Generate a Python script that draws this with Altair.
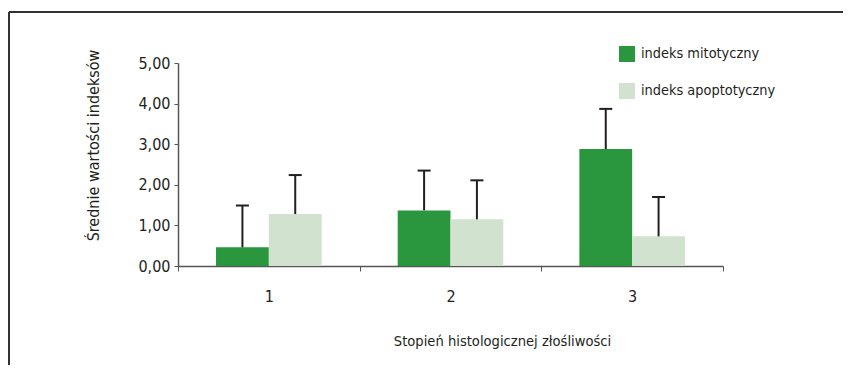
import altair as alt
import pandas as pd

categories = ["1", "2", "3"]
series = ["indeks mitotyczny", "indeks apoptotyczny"]
mito = [0.46, 1.37, 2.88]
mito_err = [1.03, 0.98, 0.99]
apo = [1.28, 1.15, 0.73]
apo_err = [0.96, 0.96, 0.97]
y_ticks = [0, 1, 2, 3, 4, 5]

rows = []
for i, c in enumerate(categories):
    rows.append({"cat": c, "series": series[0], "order": 0, "value": mito[i], "top": mito[i] + mito_err[i]})
    rows.append({"cat": c, "series": series[1], "order": 1, "value": apo[i], "top": apo[i] + apo_err[i]})
df = pd.DataFrame(rows)

FONT = "Liberation Sans Narrow, Arial Narrow, DejaVu Sans Condensed, sans-serif"
TXT = "#231f20"

x_enc = alt.X("cat:N", sort=categories,
              scale=alt.Scale(paddingInner=0, paddingOuter=0),
              axis=alt.Axis(title="Stopień histologicznej złośliwości", labelAngle=0,
                            tickBand="extent", tickSize=5, labelPadding=17,
                            labelFontSize=16, titleFontSize=14.6, titleFontWeight="normal",
                            titleX=324, titleY=75, titleBaseline="middle", titleAlign="center",
                            domainColor="#555555", tickColor="#555555", domainWidth=1.5))
xo_enc = alt.XOffset("series:N", sort=series, scale=alt.Scale(paddingOuter=0.72, paddingInner=0))
y_scale = alt.Scale(domain=[0, 5], nice=False)

bars = alt.Chart(df).mark_bar().encode(
    x=x_enc,
    xOffset=xo_enc,
    y=alt.Y("value:Q", scale=y_scale,
            axis=alt.Axis(title="Średnie wartości indeksów", values=y_ticks,
                          labelExpr="replace(format(datum.value, '.2f'), '.', ',')",
                          tickSize=4, labelPadding=4, grid=False,
                          labelFontSize=16, titleFontSize=16, titleFontWeight="normal",
                          titleX=-85, titleY=82, titleAngle=-90, titleBaseline="middle",
                          titleAlign="center",
                          domainColor="#555555", tickColor="#555555", domainWidth=1.5)),
    color=alt.Color("series:N", sort=series,
                    scale=alt.Scale(domain=series, range=["#2a963e", "#d1e3cf"]),
                    legend=alt.Legend(title=None, orient="none", legendX=441, legendY=-17,
                                      symbolType="square", symbolSize=256, symbolStrokeWidth=0,
                                      symbolOpacity=1, labelFontSize=14.4, rowPadding=21,
                                      labelOffset=6, labelColor=TXT)),
)

err = alt.Chart(df).mark_rule(color=TXT, strokeWidth=2).encode(
    x=alt.X("cat:N", sort=categories),
    xOffset=alt.XOffset("series:N", sort=series),
    y=alt.Y("value:Q", scale=y_scale),
    y2="top:Q",
)

caps = alt.Chart(df).mark_tick(color=TXT, thickness=2, size=13, opacity=1).encode(
    x=alt.X("cat:N", sort=categories),
    xOffset=alt.XOffset("series:N", sort=series),
    y=alt.Y("top:Q", scale=y_scale),
)

frame_top = alt.Chart(df).mark_rule(color="#333333", strokeWidth=1.5).encode(
    x=alt.value(-169), x2=alt.value(700), y=alt.value(-51))
frame_left = alt.Chart(df).mark_rule(color="#333333", strokeWidth=1.5).encode(
    x=alt.value(-169), y=alt.value(-51), y2=alt.value(400))

chart = alt.layer(frame_top, frame_left, bars, err, caps).properties(
    width=545, height=203,
    autosize=alt.AutoSizeParams(type="none"),
    padding={"left": 170, "top": 55, "right": 120, "bottom": 99},
).configure(font=FONT).configure_view(stroke=None).configure_axis(
    labelColor=TXT, titleColor=TXT, labelFont=FONT, titleFont=FONT
).configure_legend(labelFont=FONT)

chart.save("out.html", embed_options={"renderer": "svg", "actions": False})
